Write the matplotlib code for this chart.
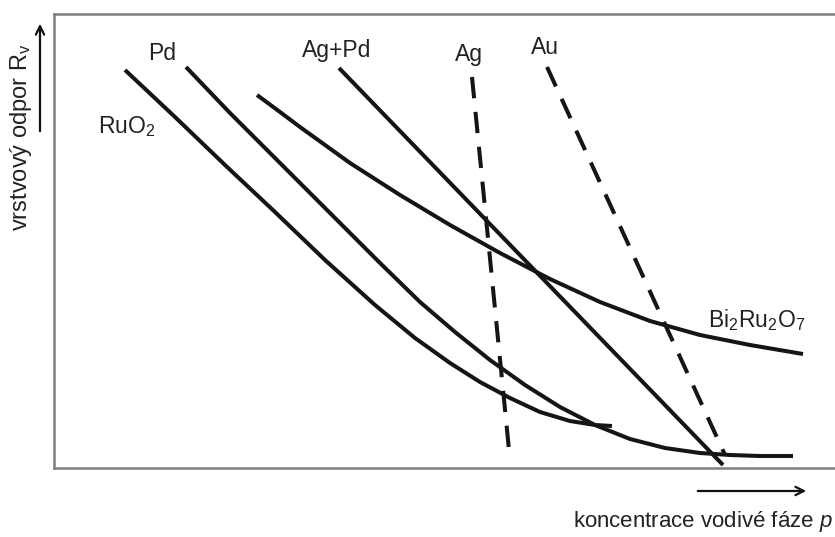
#%% init
import numpy as np
import matplotlib
matplotlib.use('Agg')
from matplotlib import pyplot as plt

plt.rcParams['font.family'] = 'Liberation Sans'
plt.rcParams['mathtext.fontset'] = 'custom'
plt.rcParams['mathtext.rm'] = 'Liberation Sans'
plt.rcParams['mathtext.it'] = 'Liberation Sans:italic'

#%% data (schematic, arbitrary units: concentration p -> x, sheet resistance -> y)
ruo2_x = [71, 121, 171, 221, 271, 321, 361, 396, 426, 456, 486, 516, 541, 558]
ruo2_y = [398, 351, 303, 256, 208, 163, 130, 105, 86, 70, 56, 47, 43, 42]

pd_x = [132, 176, 226, 276, 326, 366, 401, 436, 471, 506, 541, 576, 611, 646, 676, 706, 739]
pd_y = [401, 355, 305, 255, 205, 166, 136, 108, 83, 61, 43, 29, 20, 15, 13, 12, 12]

bi_x = [203, 226, 246, 271, 296, 321, 346, 396, 446, 496, 546, 596, 646, 696, 749]
bi_y = [373, 356, 341, 323, 305, 289, 273, 243, 215, 189, 166, 147, 133, 123, 114]

agpd_x = [285, 669]
agpd_y = [400, 3]

ag_x = [418, 456]
ag_y = [391, 8]

au_x = [493, 671]
au_y = [401, 13]

labels = ['Pd', 'Ag+Pd', 'Ag', 'Au', 'RuO$_2$', 'Bi$_2$Ru$_2$O$_7$']
label_x = [108, 283, 415, 491, 73, 703]
label_y = [415, 418, 414, 421, 341, 148]

#%% plot
fig = plt.figure(figsize=(8.35, 5.37), dpi=100)
axes = fig.add_axes([54/835, 69/537, 781/835, 454/537])

col = '#151515'
lw = 2.9
dash = (0, (5.3, 3.4))
axes.plot(ruo2_x, ruo2_y, color=col, linewidth=lw, solid_capstyle='butt', solid_joinstyle='round')
axes.plot(pd_x, pd_y, color=col, linewidth=lw, solid_capstyle='butt', solid_joinstyle='round')
axes.plot(bi_x, bi_y, color=col, linewidth=lw, solid_capstyle='butt', solid_joinstyle='round')
axes.plot(agpd_x, agpd_y, color=col, linewidth=lw, solid_capstyle='butt')
axes.plot(ag_x, ag_y, color=col, linewidth=lw, linestyle=dash, dash_capstyle='butt')
axes.plot(au_x, au_y, color=col, linewidth=lw, linestyle=dash, dash_capstyle='butt')

for t, x, y in zip(labels, label_x, label_y):
    axes.text(x, y, t, fontsize=16.5, color='#222222', ha='center', va='center')

axes.set_xlim(0, 781)
axes.set_ylim(0, 454)
axes.set_xticks([])
axes.set_yticks([])
for s in ['left', 'bottom', 'top']:
    axes.spines[s].set_color('#7f7f7f')
    axes.spines[s].set_linewidth(1.8)
axes.spines['right'].set_visible(False)

# axis captions with arrows (figure coordinates)
fig.text(833/835, 1 - 522/537, 'koncentrace vodivé fáze $p$', fontsize=16,
         ha='right', va='center', color='#222222')
fig.text(21/835, 1 - 137/537, 'vrstvový odpor R$_\\mathrm{v}$', fontsize=17,
         rotation=90, ha='center', va='center', color='#222222')
fig.add_artist(matplotlib.patches.FancyArrowPatch(
    (695/835, 1 - 491/537), (809/835, 1 - 491/537), transform=fig.transFigure,
    arrowstyle='->,head_length=6,head_width=3', lw=1.6, color='#111111'))
fig.add_artist(matplotlib.patches.FancyArrowPatch(
    (40/835, 1 - 134/537), (40/835, 1 - 21/537), transform=fig.transFigure,
    arrowstyle='->,head_length=6,head_width=3', lw=1.6, color='#111111'))

fig.savefig('out.png', dpi=100)
